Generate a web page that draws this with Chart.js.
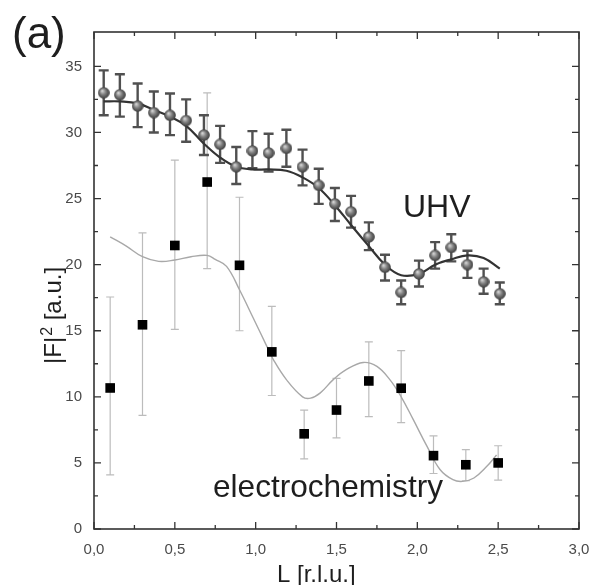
<!DOCTYPE html>
<html><head><meta charset="utf-8">
<script src="https://cdn.jsdelivr.net/npm/chart.js@4.4.1/dist/chart.umd.min.js"></script>
<style>html,body{margin:0;padding:0;background:#fff;overflow:hidden}canvas{display:block}</style>
</head><body>
<canvas id="c" width="591" height="585"></canvas>
<script>
// ---- data ----
const uhvL   = [0.06,0.16,0.27,0.37,0.47,0.57,0.68,0.78,0.88,0.98,1.08,1.19,1.29,1.39,1.49,1.59,1.70,1.80,1.90,2.01,2.11,2.21,2.31,2.41,2.51];
const uhvVal = [33.0,32.85,32.0,31.5,31.3,30.9,29.8,29.1,27.4,28.6,28.45,28.8,27.4,26.0,24.6,24.0,22.1,19.8,17.9,19.3,20.7,21.3,20.0,18.7,17.8];
const uhvHi  = [34.7,34.4,33.7,33.1,32.95,32.5,31.3,30.5,28.9,30.1,29.9,30.2,28.7,27.25,25.8,25.2,23.2,20.75,18.8,20.3,21.7,22.3,21.05,19.7,18.65];
const uhvLo  = [31.3,31.2,30.4,30.0,29.8,29.3,28.3,27.7,26.1,27.3,27.05,27.4,26.0,24.6,23.3,22.8,21.1,18.8,17.0,18.35,19.7,20.25,19.0,17.8,17.0];

const uhvFitL = [0.06,0.16,0.27,0.37,0.47,0.57,0.68,0.78,0.88,0.98,1.08,1.19,1.29,1.39,1.49,1.59,1.70,1.80,1.90,2.01,2.11,2.21,2.31,2.41,2.51];
const uhvFit  = [32.35,32.35,32.2,31.7,31.2,30.5,29.15,28.1,27.4,27.2,27.2,27.1,26.6,25.8,24.5,23.0,21.4,20.0,19.2,19.3,20.0,20.4,20.7,20.5,19.7];

const ecL   = [0.1,0.3,0.5,0.7,0.9,1.1,1.3,1.5,1.7,1.9,2.1,2.3,2.5];
const ecVal = [10.67,15.45,21.45,26.25,19.95,13.4,7.2,9.0,11.2,10.65,5.55,4.86,5.0];
const ecHi  = [17.55,22.4,27.9,33.0,25.1,16.85,9.0,11.4,14.15,13.5,7.05,6.0,6.3];
const ecLo  = [4.1,8.6,15.1,19.7,15.0,10.1,5.3,6.9,8.5,8.05,4.2,3.65,3.7];

const ecFitL = [0.1,0.2,0.3,0.4,0.5,0.6,0.7,0.75,0.82,0.9,0.985,1.07,1.11,1.19,1.29,1.34,1.40,1.48,1.56,1.665,1.75,1.83,1.90,1.975,2.06,2.14,2.22,2.28,2.35,2.43,2.49];
const ecFit  = [22.1,21.4,20.6,20.25,20.35,20.6,20.7,20.4,19.87,18.1,15.96,13.8,12.8,11.3,10.0,9.9,10.3,11.3,12.05,12.6,12.3,11.3,10.0,8.27,6.25,4.5,3.73,3.6,3.86,4.74,5.6];

const xMajor = [0,0.5,1,1.5,2,2.5,3];
const xMinor = [0.25,0.75,1.25,1.75,2.25,2.75];
const yMajor = [0,5,10,15,20,25,30,35];
const yMinor = [2.5,7.5,12.5,17.5,22.5,27.5,32.5];

const pts = (xs, ys) => xs.map((v, i) => ({x: v, y: ys[i]}));

function sphere() {
  const c = document.createElement('canvas');
  c.width = 12; c.height = 12;
  const g = c.getContext('2d');
  const gr = g.createRadialGradient(4.4, 4, 0.4, 6, 6, 6.1);
  gr.addColorStop(0, '#d4d4d4');
  gr.addColorStop(0.45, '#808080');
  gr.addColorStop(1, '#353535');
  g.fillStyle = gr;
  g.beginPath(); g.arc(6, 6, 5.8, 0, Math.PI * 2); g.fill();
  return c;
}

const errorBars = {
  id: 'errorBars',
  beforeDatasetsDraw(chart) {
    const {ctx, scales: {x, y}} = chart;
    const sets = [
      {L: ecL, lo: ecLo, hi: ecHi, color: '#bcbcbc', w: 1.2, cap: 4},
      {L: uhvL, lo: uhvLo, hi: uhvHi, color: '#505050', w: 2.4, cap: 5}
    ];
    ctx.save();
    sets.forEach(s => {
      ctx.strokeStyle = s.color; ctx.lineWidth = s.w;
      s.L.forEach((l, i) => {
        const px = x.getPixelForValue(l);
        const pt = y.getPixelForValue(s.hi[i]);
        const pb = y.getPixelForValue(s.lo[i]);
        ctx.beginPath();
        ctx.moveTo(px, pt); ctx.lineTo(px, pb);
        ctx.moveTo(px - s.cap, pt); ctx.lineTo(px + s.cap, pt);
        ctx.moveTo(px - s.cap, pb); ctx.lineTo(px + s.cap, pb);
        ctx.stroke();
      });
    });
    ctx.restore();
  }
};

const frame = {
  id: 'frame',
  afterDatasetsDraw(chart) {
    const {ctx, chartArea: a, scales: {x, y}} = chart;
    ctx.save();
    ctx.strokeStyle = '#333'; ctx.lineWidth = 1.6;
    ctx.strokeRect(a.left, a.top, a.right - a.left, a.bottom - a.top);
    ctx.lineWidth = 1.3;
    ctx.beginPath();
    const xt = (v, len) => {
      const p = x.getPixelForValue(v);
      ctx.moveTo(p, a.bottom); ctx.lineTo(p, a.bottom - len);
      ctx.moveTo(p, a.top); ctx.lineTo(p, a.top + len);
    };
    const yt = (v, len) => {
      const p = y.getPixelForValue(v);
      ctx.moveTo(a.left, p); ctx.lineTo(a.left + len, p);
      ctx.moveTo(a.right, p); ctx.lineTo(a.right - len, p);
    };
    xMajor.forEach(v => xt(v, 7)); xMinor.forEach(v => xt(v, 4));
    yMajor.forEach(v => yt(v, 7)); yMinor.forEach(v => yt(v, 4));
    ctx.stroke();
    ctx.restore();
  },
  afterDraw(chart) {
    const ctx = chart.ctx;
    ctx.save();
    ctx.fillStyle = '#1e1e1e';
    ctx.textBaseline = 'alphabetic'; ctx.textAlign = 'left';
    ctx.font = '44px "Liberation Sans", Arial, sans-serif';
    ctx.fillText('(a)', 12, 48);
    ctx.font = '32px "Liberation Sans", Arial, sans-serif';
    ctx.fillText('UHV', 403, 217);
    ctx.font = '31.6px "Liberation Sans", Arial, sans-serif';
    ctx.fillText('electrochemistry', 213, 497);
    ctx.font = '24px "Liberation Sans", Arial, sans-serif';
    ctx.fillText('L [r.l.u.]', 277, 582);
    // rotated y title
    ctx.translate(61, 364);
    ctx.rotate(-Math.PI / 2);
    ctx.font = '24px "Liberation Sans", Arial, sans-serif';
    let cx = 0;
    ctx.fillText('|F|', cx, 0); cx += ctx.measureText('|F|').width + 1;
    ctx.font = '16px "Liberation Sans", Arial, sans-serif';
    ctx.fillText('2', cx, -9); cx += ctx.measureText('2').width;
    ctx.font = '24px "Liberation Sans", Arial, sans-serif';
    ctx.fillText(' [a.u.]', cx, 0);
    ctx.restore();
  }
};

Chart.defaults.font.family = '"Liberation Sans", Arial, sans-serif';

new Chart(document.getElementById('c'), {
  type: 'scatter',
  data: {
    datasets: [
      {label: 'UHV', data: pts(uhvL, uhvVal), pointStyle: sphere(), pointRadius: 6, showLine: false},
      {label: 'UHV fit', data: pts(uhvFitL, uhvFit), showLine: true, pointRadius: 0, borderColor: '#333333', borderWidth: 2.2, tension: 0.4, fill: false},
      {label: 'electrochemistry', data: pts(ecL, ecVal), pointStyle: 'rect', pointRadius: 6.8, backgroundColor: '#000', borderColor: '#000', borderWidth: 0, showLine: false},
      {label: 'electrochemistry fit', data: pts(ecFitL, ecFit), showLine: true, pointRadius: 0, borderColor: '#a8a8a8', borderWidth: 1.4, tension: 0.4, fill: false}
    ]
  },
  options: {
    responsive: false,
    animation: false,
    devicePixelRatio: 1,
    layout: {padding: {top: 32, right: 12, left: 0, bottom: 0}},
    plugins: {legend: {display: false}, tooltip: {enabled: false}},
    scales: {
      x: {
        type: 'linear', min: 0, max: 3,
        grid: {display: false, drawTicks: false},
        border: {display: false},
        ticks: {stepSize: 0.5, padding: 12, color: '#4a4a4a', font: {size: 15},
                callback: v => v.toFixed(1).replace('.', ',')},
        afterFit: s => { s.height = 56; s.paddingLeft = 0; s.paddingRight = 0; }
      },
      y: {
        type: 'linear', min: 0, max: 37.6,
        grid: {display: false, drawTicks: false},
        border: {display: false},
        ticks: {stepSize: 5, includeBounds: false, padding: 12, color: '#4a4a4a', font: {size: 15},
                callback: v => String(v)},
        afterFit: s => { s.width = 94; s.paddingTop = 0; s.paddingBottom = 0; }
      }
    }
  },
  plugins: [errorBars, frame]
});
</script>
</body></html>
